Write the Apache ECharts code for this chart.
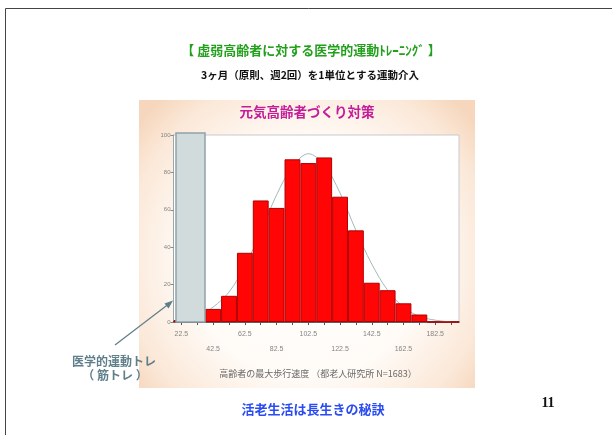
<!DOCTYPE html>
<html>
<head>
<meta charset="utf-8">
<script src="https://cdn.jsdelivr.net/npm/echarts@6/dist/echarts.min.js"></script>
<style>
  html, body { margin: 0; padding: 0; background: #ffffff; }
  #chart { width: 612px; height: 435px; }
</style>
</head>
<body>
<div id="chart"></div>
<script>
// Histogram of maximum walking speed among older adults, with a fitted curve
const speedBins = ['22.5', '32.5', '42.5', '52.5', '62.5', '72.5', '82.5', '92.5', '102.5',
                   '112.5', '122.5', '132.5', '142.5', '152.5', '162.5', '172.5', '182.5', '192.5'];
const counts = [1, 2, 7, 14, 37, 65, 61, 87, 85, 88, 67, 49, 21, 17, 10, 4, 0, 0];
const fittedCurve = [1, 3, 8, 16, 30, 48, 68, 83, 90, 84, 69, 49, 31, 17, 8, 3, 1, 0];
const yTicks = { min: 0, max: 100, interval: 20 };

const slideTitle = '【 虚弱高齢者に対する医学的運動ﾄﾚｰﾆﾝｸﾞ 】';
const slideSubtitle = '3ヶ月（原則、週2回）を1単位とする運動介入';
const chartTitle = '元気高齢者づくり対策';
const xAxisTitle = '高齢者の最大歩行速度 （都老人研究所 N=1683）';
const noteLines = ['医学的運動トレ', '（ 筋トレ ）'];
const footer = '活老生活は長生きの秘訣';
const pageNo = '11';

const JP = '"Noto Sans CJK JP", "Noto Sans", sans-serif';

const chart = echarts.init(document.getElementById('chart'), null, { renderer: 'canvas' });

chart.setOption({
  animation: false,
  backgroundColor: '#ffffff',
  grid: {
    left: 173.5, right: 153, top: 135, bottom: 113,
    show: true, backgroundColor: '#ffffff', borderColor: '#c9c9cc', borderWidth: 1
  },
  xAxis: {
    type: 'category',
    data: speedBins,
    boundaryGap: true,
    axisLine: { show: true, lineStyle: { color: '#333333', width: 1.5 } },
    axisTick: { show: true, alignWithLabel: true, interval: 0, length: 3, lineStyle: { color: '#555555' } },
    axisLabel: {
      interval: 1,
      color: '#858585',
      fontSize: 7,
      fontFamily: 'Liberation Sans, sans-serif',
      margin: 5,
      lineHeight: 15,
      formatter: function (value, index) {
        return (index % 4 === 2) ? '\n' + value : value;
      }
    },
    splitLine: { show: false }
  },
  yAxis: {
    type: 'value',
    min: yTicks.min, max: yTicks.max, interval: yTicks.interval,
    axisLine: { show: true, lineStyle: { color: '#9aa9ad' } },
    axisTick: { show: true, length: 3, lineStyle: { color: '#888888' } },
    axisLabel: { color: '#858585', fontSize: 6, margin: 3, fontFamily: 'Liberation Sans, sans-serif' },
    splitLine: { show: false }
  },
  series: [
    {
      name: 'curve',
      type: 'line',
      data: fittedCurve,
      smooth: 0.35,
      symbol: 'none',
      z: 1,
      lineStyle: { color: '#a3baba', width: 1 }
    },
    {
      name: 'counts',
      type: 'bar',
      data: counts,
      barCategoryGap: 0,
      z: 2,
      itemStyle: { color: '#ff0505', borderColor: '#b00000', borderWidth: 1 }
    }
  ],
  graphic: [
    // soft peach panel behind the plot
    {
      type: 'rect', z: -20, silent: true,
      shape: { x: 139, y: 100, width: 336, height: 288 },
      style: {
        fill: {
          type: 'radial', x: 0.5, y: 0.55, r: 0.75,
          colorStops: [
            { offset: 0, color: '#ffffff' },
            { offset: 0.55, color: '#fffbf7' },
            { offset: 0.85, color: '#fbe8d8' },
            { offset: 1, color: '#f6d7bd' }
          ]
        }
      }
    },
    {
      type: 'text', z: 50, silent: true,
      style: {
        text: chartTitle, x: 307, y: 112, align: 'center', verticalAlign: 'middle',
        font: 'bold 13.5px ' + JP, fill: '#c41c9a',
        shadowColor: 'rgba(240,120,200,0.8)', shadowBlur: 4
      }
    },
    {
      type: 'text', z: 50, silent: true,
      style: {
        text: xAxisTitle, x: 318, y: 374, align: 'center', verticalAlign: 'middle',
        font: '9px ' + JP, fill: '#6a6a6a'
      }
    },
    // grey highlight over the slowest bins
    {
      type: 'rect', z: 60, silent: true,
      shape: { x: 176, y: 133, width: 29, height: 189 },
      style: { fill: '#d2dbdc', stroke: '#8ea3aa', lineWidth: 1.5 }
    },
    // arrow pointing to the highlighted bins
    {
      type: 'line', z: 60, silent: true,
      shape: { x1: 115, y1: 345, x2: 170, y2: 303 },
      style: { stroke: '#5e7e89', lineWidth: 1.2 }
    },
    {
      type: 'polygon', z: 60, silent: true,
      shape: { points: [[173, 300.5], [164.5, 303.5], [168.5, 308.5]] },
      style: { fill: '#5e7e89' }
    },
    {
      type: 'text', z: 60, silent: true,
      style: {
        text: noteLines[0], x: 114, y: 361, align: 'center', verticalAlign: 'middle',
        font: 'bold 12px ' + JP, fill: '#5f7f8b'
      }
    },
    {
      type: 'text', z: 60, silent: true,
      style: {
        text: noteLines[1], x: 115, y: 375, align: 'center', verticalAlign: 'middle',
        font: 'bold 12px ' + JP, fill: '#5f7f8b'
      }
    },
    // slide texts
    {
      type: 'text', silent: true,
      style: {
        text: slideTitle, x: 311, y: 50, align: 'center', verticalAlign: 'middle',
        font: 'bold 13px ' + JP, fill: '#22a01c'
      }
    },
    {
      type: 'text', silent: true,
      style: {
        text: slideSubtitle, x: 310, y: 75, align: 'center', verticalAlign: 'middle',
        font: 'bold 10.5px ' + JP, fill: '#111111'
      }
    },
    {
      type: 'text', silent: true,
      style: {
        text: footer, x: 313, y: 409, align: 'center', verticalAlign: 'middle',
        font: 'bold 13px ' + JP, fill: '#2a4cf2'
      }
    },
    {
      type: 'text', silent: true,
      style: {
        text: pageNo, x: 548, y: 403, align: 'center', verticalAlign: 'middle',
        font: 'bold 14px "Liberation Serif", serif', fill: '#111111'
      }
    },
    // slide frame (top and left edges)
    {
      type: 'polyline', silent: true,
      shape: { points: [[5.5, 435], [5.5, 8.5], [612, 8.5]] },
      style: { stroke: '#444444', lineWidth: 1, fill: null }
    }
  ]
});
</script>
</body>
</html>
